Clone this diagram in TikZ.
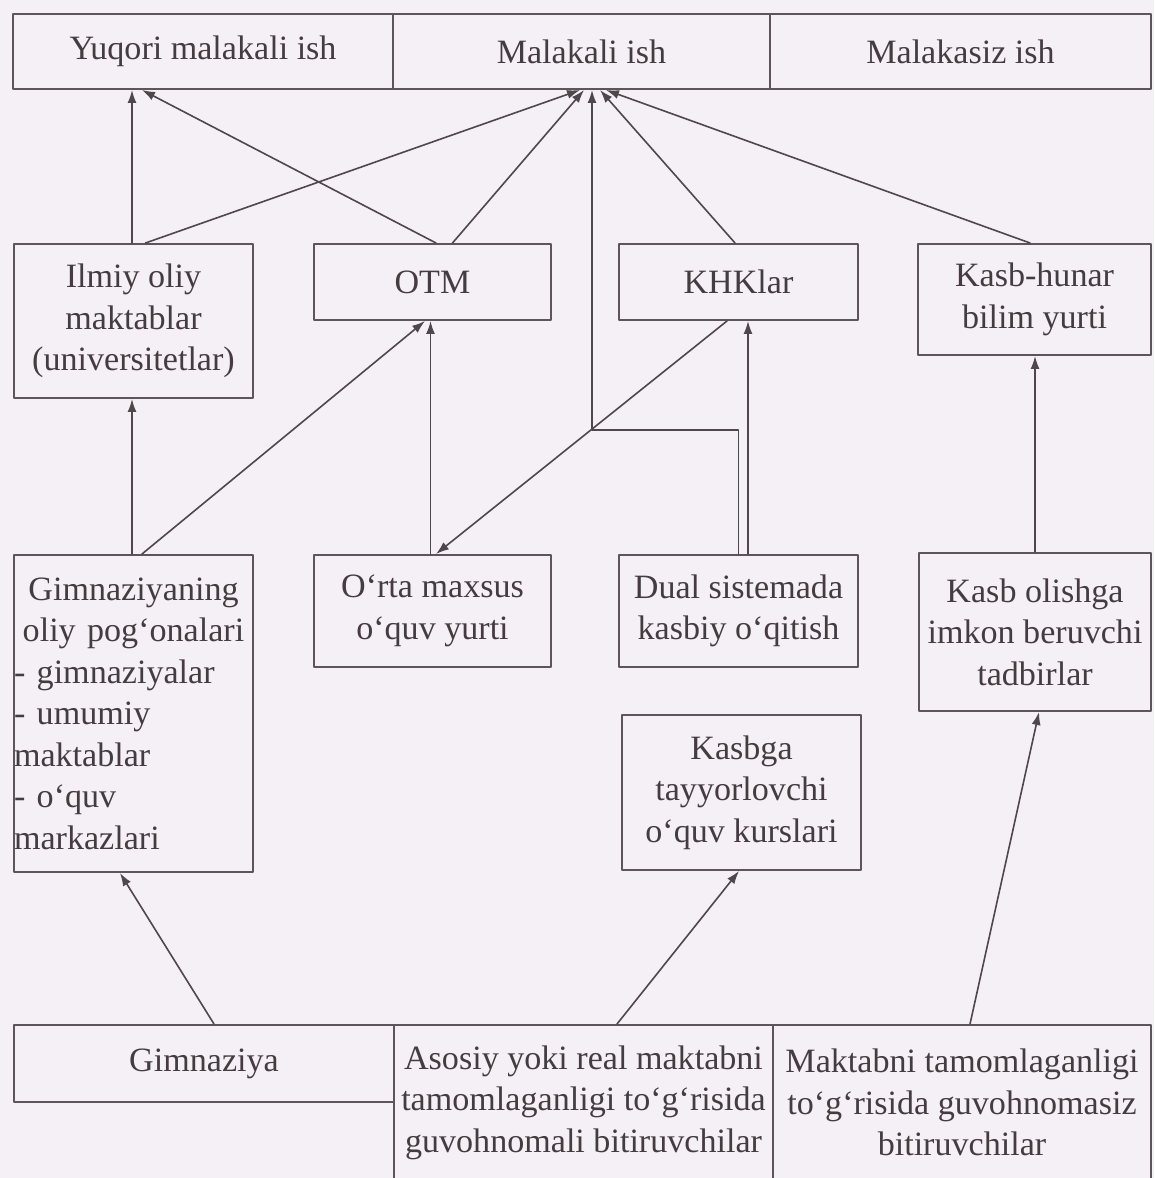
\documentclass[tikz,border=0pt]{standalone}
\usepackage{fontspec}
\setmainfont{Liberation Serif}
\usepackage{tikz}
\usetikzlibrary{arrows.meta}
\definecolor{paper}{RGB}{245,240,245}
\definecolor{ink}{RGB}{68,60,64}
\definecolor{frame}{RGB}{92,86,90}
\definecolor{wire}{RGB}{78,72,76}
\tikzset{>={Latex[length=1.3mm,width=0.9mm]}}

\begin{document}
\begin{tikzpicture}[x=0.1mm, y=-0.1mm,
                line cap=round, line join=round,
                box/.style 2 args={draw=frame, line width=0.2mm, text=ink,
                    minimum width=#1, minimum height=#2, inner sep=0pt,
                    align=center, font=\fontsize{9.7}{11.8}\selectfont},
                arrow/.style={->, draw=wire, line width=0.16mm}]
                \def\W{1154}
                \def\H{1178}

                % paper
                \useasboundingbox (0,0) rectangle (\W,\H);
                \fill[paper] (0,0) rectangle (\W,\H);
                \clip (0,0) rectangle (\W,\H);

                % kinds of work
                \node[box={38mm}{7.5mm}] (yuqori) at (203,51.5) {Yuqori malakali ish};
                \node[box={37.7mm}{7.5mm}] (malakali) at (581.5,51.5) {Malakali ish};
                \node[box={38.1mm}{7.5mm}] (malakasiz) at (960.5,51.5) {Malakasiz ish};

                % second row
                \node[box={23.9mm}{15.4mm}] (ilmiy) at (133.5,321) {Ilmiy oliy\\ maktablar\\ (universitetlar)};
                \node[box={23.7mm}{7.6mm}] (otm) at (432.5,282) {OTM};
                \node[box={23.9mm}{7.6mm}] (khk) at (738.5,282) {KHKlar};
                \node[box={23.3mm}{11.1mm}] (kasbhunar) at (1034.5,299.5) {Kasb-hunar\\ bilim yurti};

                % third row
                \node[box={23.9mm}{31.7mm}, text width=23.9mm] (gimnoliy) at (133.5,713.5)
                    {Gimnaziyaning\\ oliy pog‘onalari\par\raggedright
                     - gimnaziyalar\\ - umumiy\\ maktablar\\ - o‘quv\\ markazlari\par};
                \node[box={23.7mm}{11.2mm}] (ortamaxsus) at (432.5,611) {O‘rta maxsus\\ o‘quv yurti};
                \node[box={23.9mm}{11.2mm}] (dual) at (738.5,611) {Dual sistemada\\ kasbiy o‘qitish};
                \node[box={23.2mm}{15.8mm}] (kasbolish) at (1035,632) {Kasb olishga\\ imkon beruvchi\\ tadbirlar};
                \node[box={23.9mm}{15.5mm}] (kasbga) at (741.5,792.5) {Kasbga\\ tayyorlovchi\\ o‘quv kurslari};

                % school leavers
                \node[box={38mm}{7.7mm}] (gimnaziya) at (204,1063.5) {Gimnaziya};
                \node[box={37.9mm}{15.5mm}] (asosiy) at (583.5,1102.5) {Asosiy yoki real maktabni\\ tamomlaganligi to‘g‘risida\\ guvohnomali bitiruvchilar};
                \node[box={37.8mm}{15.5mm}] (maktabni) at (962,1102.5) {Maktabni tamomlaganligi\\ to‘g‘risida guvohnomasiz\\ bitiruvchilar};

                % into work
                \draw[arrow] ([xshift=-0.15mm]ilmiy.north) -- ([xshift=-0.15mm]ilmiy.north |- yuqori.south);
                \draw[arrow] ([xshift=1.2mm]ilmiy.north) -- ([xshift=-0.15mm]malakali.south);
                \draw[arrow] ([xshift=0.35mm]otm.north) -- ([xshift=-6.1mm]yuqori.south);
                \draw[arrow] ([xshift=2mm]otm.north) -- ([xshift=0.25mm]malakali.south);
                \draw[arrow] ([xshift=-0.35mm]khk.north) -- ([xshift=1.85mm]malakali.south);
                \draw[arrow] ([xshift=-0.45mm]kasbhunar.north) -- ([xshift=2.45mm]malakali.south);
                \coordinate (knee) at (592,430);
                \draw[arrow] (dual.north) |- (knee) -- (knee |- malakali.south);

                % between schools
                \draw[arrow] ([xshift=0.95mm]dual.north) -- ([xshift=0.95mm]khk.south);
                \draw[arrow] ([xshift=-1.15mm]khk.south) -- ([xshift=0.35mm]ortamaxsus.north);
                \draw[arrow] ([xshift=-0.2mm]ortamaxsus.north) -- ([xshift=-0.2mm]otm.south);
                \draw[arrow] ([xshift=0.85mm]gimnoliy.north) -- ([xshift=-0.75mm]otm.south);
                \draw[arrow] ([xshift=-0.15mm]gimnoliy.north) -- ([xshift=-0.15mm]ilmiy.south);
                \draw[arrow] (kasbolish.north) -- (kasbolish.north |- kasbhunar.south);

                % from school leavers
                \draw[arrow] ([xshift=1mm]gimnaziya.north) -- ([xshift=-1.35mm]gimnoliy.south);
                \draw[arrow] ([xshift=3.35mm]asosiy.north) -- ([xshift=-0.25mm]kasbga.south);
                \draw[arrow] ([xshift=0.8mm]maktabni.north) -- ([xshift=0.4mm]kasbolish.south);

            \end{tikzpicture}
\end{document}
